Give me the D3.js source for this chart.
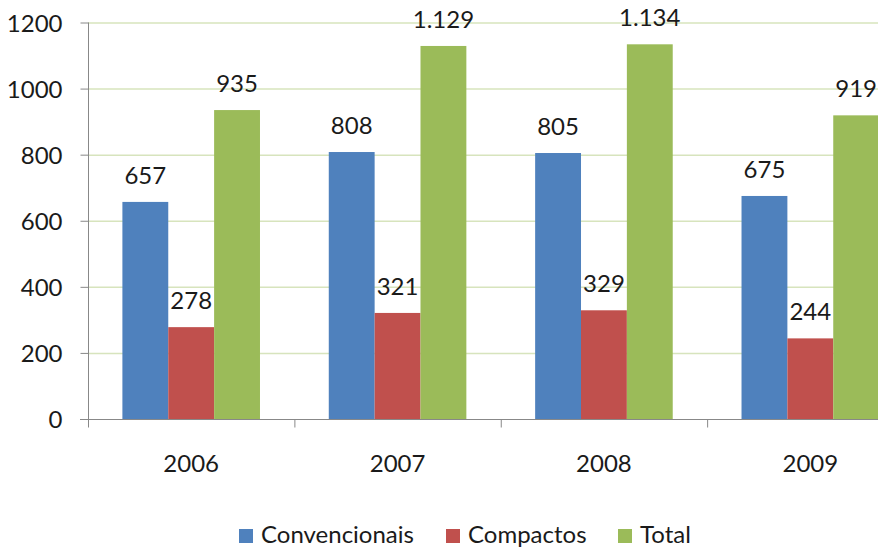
<!DOCTYPE html>
<html>
<head>
<meta charset="utf-8">
<script src="https://cdn.jsdelivr.net/npm/d3@7"></script>
<style>
  body { margin: 0; background: #fff; }
  svg { display: block; font-family: Lato, "Open Sans", sans-serif; }
</style>
</head>
<body>
<div id="chart"></div>
<script>
// chart data
const years = ['2006', '2007', '2008', '2009'];
const seriesNames = ['Convencionais', 'Compactos', 'Total'];
const convencionais = [657, 808, 805, 675];
const compactos = [278, 321, 329, 244];
const total = [935, 1129, 1134, 919];
const yTicks = [0, 200, 400, 600, 800, 1000, 1200];

const colors = ['#4f81bd', '#c0504d', '#9bbb59'];
const width = 878, height = 549;
// value labels use a dot as thousands separator
const fmt = v => v >= 1000 ? d3.format(',')(v).replace(',', '.') : String(v);

const svg = d3.select('#chart').append('svg')
	.attr('width', width)
	.attr('height', height);

// plot runs past the right edge, same as the source picture
const x = d3.scaleBand().domain(years).range([88, 913.5]);
const xInner = d3.scaleBand().domain(seriesNames)
	.range([0, x.bandwidth()]).paddingOuter(0.75).paddingInner(0);
const y = d3.scaleLinear().domain([0, 1200]).range([419, 22.5]);

// gridlines
svg.append('g')
	.selectAll('line')
	.data(yTicks.filter(d => d > 0))
	.join('line')
	.attr('x1', 88).attr('x2', width)
	.attr('y1', d => y(d) + 0.5).attr('y2', d => y(d) + 0.5)
	.attr('stroke', '#d7e4bd')
	.attr('stroke-width', 1.5);

const rows = years.map((yr, i) => ({year: yr, values: [convencionais[i], compactos[i], total[i]]}));

const groups = svg.append('g').selectAll('g')
	.data(rows)
	.join('g')
	.attr('transform', d => 'translate(' + x(d.year) + ',0)');

groups.selectAll('rect')
	.data(d => d.values.map((v, i) => ({name: seriesNames[i], value: v, i: i})))
	.join('rect')
	.attr('x', d => xInner(d.name))
	.attr('width', xInner.bandwidth())
	.attr('y', d => y(d.value))
	.attr('height', d => y(0) - y(d.value))
	.attr('fill', d => colors[d.i]);

groups.selectAll('text')
	.data(d => d.values.map((v, i) => ({name: seriesNames[i], value: v})))
	.join('text')
	.attr('x', d => xInner(d.name) + xInner.bandwidth() / 2)
	.attr('y', d => y(d.value) - 18)
	.attr('text-anchor', 'middle')
	.attr('font-size', 24)
	.attr('fill', '#1a1a1a')
	.text(d => fmt(d.value));

// y axis
const yAxis = svg.append('g')
	.attr('transform', 'translate(88.5,0)')
	.call(d3.axisLeft(y).tickValues(yTicks).tickFormat(d3.format('d')).tickSize(8).tickPadding(18));
yAxis.select('.domain').attr('stroke', '#888').attr('d', 'M0,' + y(1200) + 'V' + (y(0) + 0.5));
yAxis.selectAll('.tick line').attr('stroke', '#888');
yAxis.selectAll('.tick text')
	.attr('font-size', 24)
	.attr('font-family', 'Lato, "Open Sans", sans-serif')
	.attr('fill', '#1a1a1a')
	.attr('dy', '0.36em');

// x axis
const xAxis = svg.append('g')
	.attr('transform', 'translate(0,' + (y(0) + 0.5) + ')');
xAxis.append('line')
	.attr('x1', 80).attr('x2', width)
	.attr('stroke', '#888');
xAxis.selectAll('.xtick')
	.data(years.concat(['end']))
	.join('line')
	.attr('class', 'xtick')
	.attr('x1', (d, i) => 88.5 + i * x.bandwidth())
	.attr('x2', (d, i) => 88.5 + i * x.bandwidth())
	.attr('y1', 0).attr('y2', 8)
	.attr('stroke', '#888');
xAxis.selectAll('text')
	.data(years)
	.join('text')
	.attr('x', d => x(d) + x.bandwidth() / 2)
	.attr('y', 52)
	.attr('text-anchor', 'middle')
	.attr('font-size', 24)
	.attr('fill', '#1a1a1a')
	.text(d => d);

// legend
const legendX = [239, 446, 618];
const legend = svg.append('g').selectAll('g')
	.data(seriesNames)
	.join('g')
	.attr('transform', (d, i) => 'translate(' + legendX[i] + ',529)');
legend.append('rect')
	.attr('width', 14).attr('height', 14)
	.attr('fill', (d, i) => colors[i]);
legend.append('text')
	.attr('x', 22).attr('y', 14)
	.attr('font-size', 24)
	.attr('fill', '#1a1a1a')
	.text(d => d);
</script>
</body>
</html>
